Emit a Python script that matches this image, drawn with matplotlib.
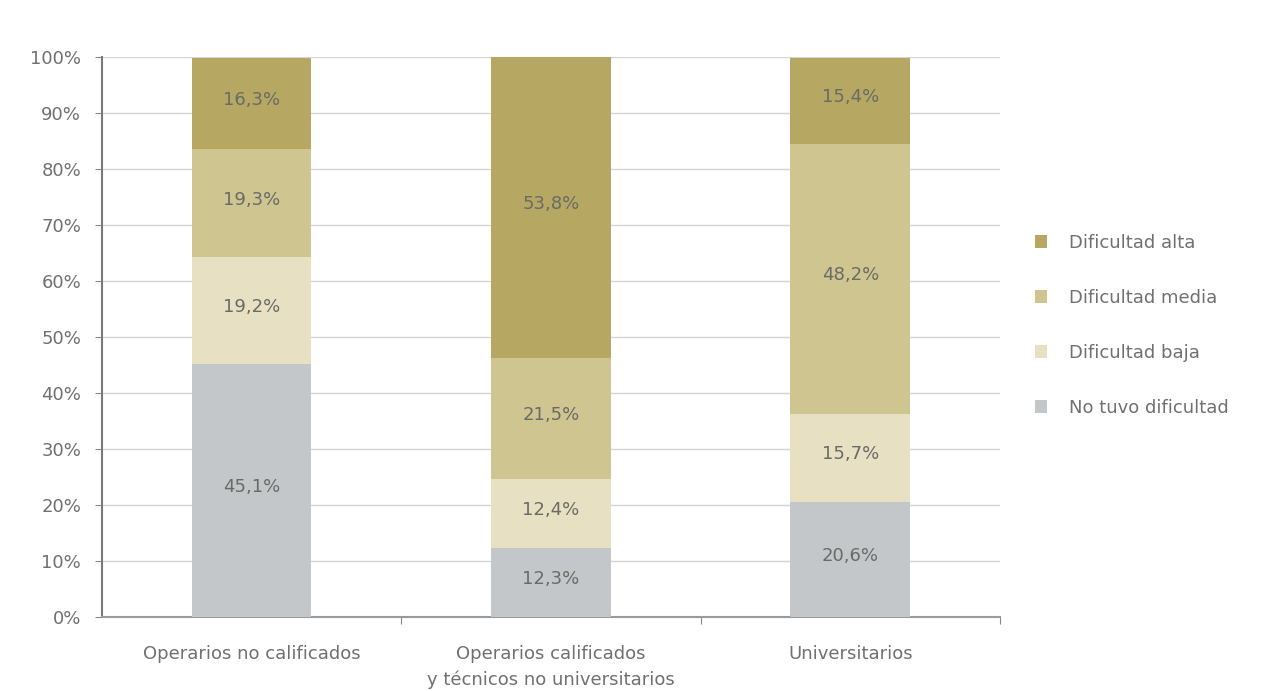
import matplotlib
matplotlib.use("Agg")
import matplotlib.pyplot as plt
import numpy as np

categories = ["Operarios no calificados", "Operarios calificados\ny técnicos no universitarios", "Universitarios"]
series_names = ["No tuvo dificultad", "Dificultad baja", "Dificultad media", "Dificultad alta"]
no_tuvo = [45.1, 12.3, 20.6]
baja = [19.2, 12.4, 15.7]
media = [19.3, 21.5, 48.2]
alta = [16.3, 53.8, 15.4]
yticks = [0, 10, 20, 30, 40, 50, 60, 70, 80, 90, 100]

colors = ["#c4c7c9", "#e7e0c2", "#cec590", "#b6a862"]
text_color = "#707070"

plt.rcParams['font.family'] = ['DejaVu Sans']
fig = plt.figure(figsize=(12.73, 6.91), dpi=100)
ax = fig.add_axes([0.0801, 0.1071, 0.7054, 0.8104])

x = np.arange(len(categories))
bottom = np.zeros(len(categories))
handles = []
for vals, name, c in zip([no_tuvo, baja, media, alta], series_names, colors):
    bars = ax.bar(x, vals, width=0.4, bottom=bottom, color=c, label=name, zorder=3)
    for xi, b, v in zip(x, bottom, vals):
        ax.text(xi, b + v / 2 + 0.6, f"{v:.1f}%".replace(".", ","), ha="center", va="center",
                fontsize=13, color="#6a6a66", zorder=4)
    bottom += np.array(vals)
    handles.append(bars)

ax.set_xlim(-0.5, 2.5)
ax.set_ylim(0, 100)
ax.set_yticks(yticks)
ax.set_yticklabels([f"{t}%" for t in yticks], fontsize=13, color=text_color)
ax.yaxis.grid(True, color="#d9d3d3", lw=1, zorder=0)
ax.set_axisbelow(True)

ax.set_xticks([0.5, 1.5, 2.5])
ax.set_xticklabels([])
ax.set_xticks(x, minor=True)
ax.set_xticklabels(categories, minor=True, fontsize=13, color=text_color, linespacing=1.5)
ax.tick_params(axis="x", which="minor", length=0, pad=20)
ax.tick_params(axis="x", which="major", length=5, color="#888888")
ax.tick_params(axis="y", length=5, color="#888888", pad=10)

for s in ["top", "right"]:
    ax.spines[s].set_visible(False)
ax.spines["left"].set_color("#7a7a7a")
ax.spines["left"].set_linewidth(1.5)
ax.spines["bottom"].set_color("#9a9a9a")
ax.spines["bottom"].set_linewidth(1.5)

leg = fig.legend(handles[::-1], series_names[::-1], loc="upper left",
                 bbox_to_anchor=(0.8, 0.685), frameon=False, fontsize=13,
                 labelspacing=2.05, handlelength=0.7, handleheight=0.7, handletextpad=1.2)
for t in leg.get_texts():
    t.set_color(text_color)

fig.savefig("out.png", dpi=100, facecolor="white")
